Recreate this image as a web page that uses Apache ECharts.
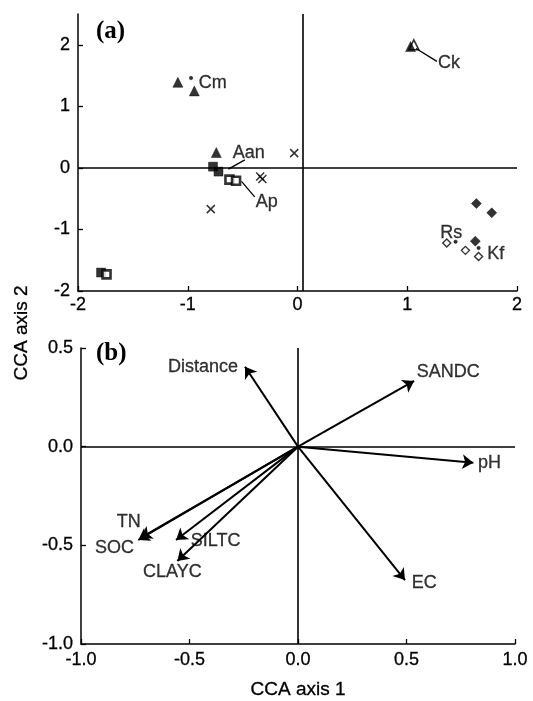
<!DOCTYPE html>
<html><head><meta charset="utf-8">
<script src="https://cdn.jsdelivr.net/npm/echarts@6/dist/echarts.min.js"></script>
<style>html,body{margin:0;padding:0;background:#fff}#c{width:533px;height:701px}</style>
</head><body><div id="c"></div>
<script>
// ---------- Panel (a) data: sample / species scores ----------
const aTicks = [-2, -1, 0, 1, 2];
const triFilled = [[-1.09, 1.39], [-0.94, 1.25], [-0.74, 0.25], [1.03, 1.97]];
const triOpen = [[1.06, 2.00]];
const sqFilled = [[-0.77, 0.02], [-0.72, -0.06], [-1.79, -1.70]];
const sqOpen = [[-0.62, -0.19], [-0.56, -0.21], [-1.74, -1.73]];
const crosses = [[-0.03, 0.24], [-0.34, -0.14], [-0.32, -0.18], [-0.79, -0.67]];
const diaFilled = [[1.63, -0.58], [1.77, -0.73], [1.62, -1.19]];
const diaOpen = [[1.36, -1.22], [1.53, -1.34], [1.65, -1.44]];
const speciesDots = [[-0.97, 1.46], [1.44, -1.20], [1.65, -1.30]];
const speciesNames = ['Cm', 'Aan', 'Ap', 'Ck', 'Rs', 'Kf'];
const speciesLabelAt = [[-0.90, 1.38], [-0.59, 0.24], [-0.38, -0.55], [1.28, 1.71], [1.30, -1.06], [1.73, -1.40]];
const leaders = [
  [[-0.48, 0.13], [-0.63, -0.02]],
  [[-0.51, -0.22], [-0.39, -0.47]],
  [[1.08, 1.94], [1.27, 1.73]]
];

// ---------- Panel (b) data: environmental vectors ----------
const bXTicks = [-1.0, -0.5, 0.0, 0.5, 1.0];
const bYTicks = [-1.0, -0.5, 0.0, 0.5];
const envNames = ['Distance', 'SANDC', 'pH', 'TN', 'SOC', 'SILTC', 'CLAYC', 'EC'];
const envX = [-0.244, 0.535, 0.808, -0.725, -0.736, -0.562, -0.556, 0.493];
const envY = [0.405, 0.333, -0.081, -0.462, -0.473, -0.473, -0.579, -0.676];
const envLabelAt = [[-0.276, 0.405], [0.547, 0.38], [0.83, -0.083], [-0.835, -0.38],
  [-0.935, -0.514], [-0.494, -0.478], [-0.714, -0.634], [0.524, -0.692]];
const envLabelAlign = ['right', 'left', 'left', 'left', 'left', 'left', 'left', 'left'];

const FONT = '"Liberation Sans", Arial, Helvetica, sans-serif';
const FS = 18;
const chart = echarts.init(document.getElementById('c'), null, {renderer: 'canvas'});

function axisCommon() {
  return {
    axisLine: {onZero: false, lineStyle: {color: '#000', width: 1.5}},
    axisTick: {inside: true, length: 5, lineStyle: {color: '#000', width: 1.3}},
    splitLine: {show: false},
    axisLabel: {color: '#000', fontSize: FS, fontFamily: FONT, textBorderColor: '#000', textBorderWidth: 0.3}
  };
}

const xA = Object.assign(axisCommon(), {type: 'value', gridIndex: 0, min: -2, max: 2, interval: 1});
xA.axisLabel = Object.assign({}, xA.axisLabel, {margin: 5, customValues: aTicks});
xA.axisTick = Object.assign({}, xA.axisTick, {customValues: aTicks});
const yA = Object.assign(axisCommon(), {type: 'value', gridIndex: 0, min: -2, max: 2.5});
yA.axisLabel = Object.assign({}, yA.axisLabel, {margin: 8, customValues: aTicks});
yA.axisTick = Object.assign({}, yA.axisTick, {customValues: aTicks});

const xB = Object.assign(axisCommon(), {type: 'value', gridIndex: 1, min: -1, max: 1});
xB.axisLabel = Object.assign({}, xB.axisLabel, {margin: 7, customValues: bXTicks, formatter: v => v.toFixed(1)});
xB.axisTick = Object.assign({}, xB.axisTick, {customValues: bXTicks});
const yB = Object.assign(axisCommon(), {type: 'value', gridIndex: 1, min: -1, max: 0.5});
yB.axisLabel = Object.assign({}, yB.axisLabel, {margin: 8, customValues: bYTicks, formatter: v => v.toFixed(1)});
yB.axisTick = Object.assign({}, yB.axisTick, {customValues: bYTicks});

function sc(data, symbol, size, filled, extra) {
  return Object.assign({
    type: 'scatter', xAxisIndex: 0, yAxisIndex: 0, data: data, symbol: symbol, symbolSize: size,
    itemStyle: filled ? {color: '#000', borderColor: '#000', borderWidth: 0.5}
                      : {color: '#fff', borderColor: '#000', borderWidth: 1.6},
    silent: true, z: 5
  }, extra || {});
}

const refLine = {color: '#000', width: 1.6, type: 'solid'};
const labelStyle = {show: true, position: 'inside', formatter: p => p.name, color: '#000', fontSize: FS,
  fontFamily: FONT, verticalAlign: 'middle', textBorderColor: '#000', textBorderWidth: 0.3};

const series = [
  // zero reference lines in (a)
  {type: 'line', xAxisIndex: 0, yAxisIndex: 0, data: [], silent: true,
   markLine: {symbol: 'none', silent: true, label: {show: false}, lineStyle: refLine,
     data: [{yAxis: 0}, {xAxis: 0.05}]}},
  // leader lines (a)
  {type: 'lines', coordinateSystem: 'cartesian2d', xAxisIndex: 0, yAxisIndex: 0, silent: true,
   lineStyle: {color: '#000', width: 1.3, opacity: 1},
   data: leaders.map(l => ({coords: l}))},
  sc(triFilled, 'triangle', 10, true),
  sc(triOpen, 'triangle', 10, false, {itemStyle: {color: 'rgba(255,255,255,0)', borderColor: '#000', borderWidth: 1.6}}),
  sc(sqFilled, 'rect', 9, true),
  sc(sqOpen, 'rect', 8, false, {itemStyle: {color: '#fff', borderColor: '#000', borderWidth: 2.6}}),
  sc(crosses, 'path://M0,0L10,10M0,10L10,0', 8, false, {itemStyle: {color: 'none', borderColor: '#000', borderWidth: 1.5}}),
  sc(diaFilled, 'diamond', 10, true),
  sc(diaOpen, 'diamond', 8, false, {itemStyle: {color: '#fff', borderColor: '#000', borderWidth: 1.4}}),
  sc(speciesDots, 'circle', 3.5, true),
  // species labels
  {type: 'scatter', xAxisIndex: 0, yAxisIndex: 0, symbolSize: 0, silent: true, z: 6,
   data: speciesNames.map((n, i) => ({value: speciesLabelAt[i], name: n})),
   label: Object.assign({}, labelStyle, {align: 'left'})},

  // zero reference lines in (b)
  {type: 'line', xAxisIndex: 1, yAxisIndex: 1, data: [], silent: true,
   markLine: {symbol: 'none', silent: true, label: {show: false}, lineStyle: refLine,
     data: [{yAxis: 0}, {xAxis: 0}]}},
  // vectors (b)
  {type: 'lines', coordinateSystem: 'cartesian2d', xAxisIndex: 1, yAxisIndex: 1, silent: true,
   symbol: ['none', 'arrow'], symbolSize: 11,
   lineStyle: {color: '#000', width: 2, opacity: 1},
   data: envNames.map((n, i) => ({coords: [[0, 0], [envX[i], envY[i]]]}))},
  // vector labels
  {type: 'scatter', xAxisIndex: 1, yAxisIndex: 1, symbolSize: 0, silent: true, z: 6,
   data: envNames.map((n, i) => ({value: envLabelAt[i], name: n,
     label: {align: envLabelAlign[i]}})),
   label: labelStyle}
];

chart.setOption({
  animation: false,
  backgroundColor: '#fff',
  grid: [
    {left: 78, right: 16, top: 14, height: 277},
    {left: 81, right: 18, top: 348, height: 296}
  ],
  xAxis: [xA, xB],
  yAxis: [yA, yB],
  graphic: [
    {type: 'text', left: 96, top: 19, style: {text: '(a)', font: 'bold 25px "Liberation Serif", "Times New Roman", serif', fill: '#000'}},
    {type: 'text', left: 96, top: 341, style: {text: '(b)', font: 'bold 25px "Liberation Serif", "Times New Roman", serif', fill: '#000'}},
    {type: 'text', x: 298, y: 690, style: {text: 'CCA axis 1', font: '19px ' + FONT, fill: '#000', stroke: '#000', lineWidth: 0.3, align: 'center', verticalAlign: 'middle'}},
    {type: 'text', x: 22, y: 333, rotation: Math.PI / 2, style: {text: 'CCA axis 2', font: '19px ' + FONT, fill: '#000', stroke: '#000', lineWidth: 0.3, align: 'center', verticalAlign: 'middle'}}
  ],
  series: series
});
</script></body></html>
